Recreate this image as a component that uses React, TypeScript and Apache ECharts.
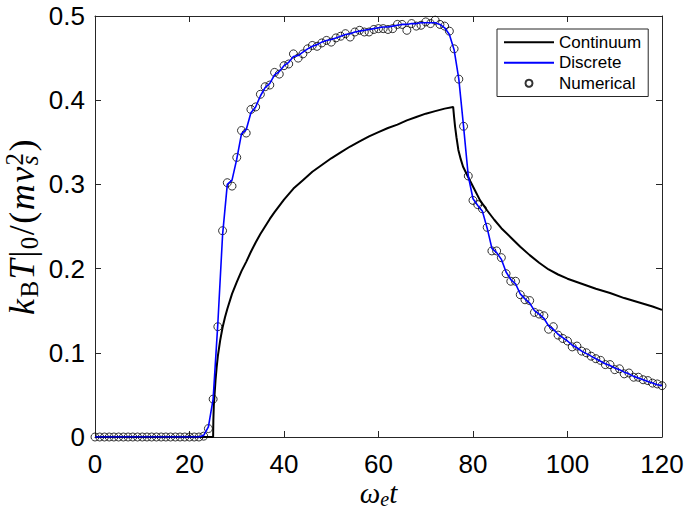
import React, { useEffect, useRef } from "react";
import * as echarts from "echarts";

const xTicks = [0, 20, 40, 60, 80, 100, 120];
const yTicks = [0, 0.1, 0.2, 0.3, 0.4, 0.5];

const seriesNames = ["Continuum", "Discrete", "Numerical"];

// Continuum (analytic) curve
const contT = [
  0, 25.0, 25.05, 25.15, 25.3, 25.5, 25.75, 26.0, 26.5, 27, 27.5, 28, 29, 30, 31, 32, 33, 34, 35, 36, 37, 38, 40,
  42, 44, 46, 48, 50, 52, 54, 56, 58, 60, 62, 64, 66, 68, 70, 72, 74, 75.8,
  76.0, 76.2, 76.5, 76.9, 77.4, 77.9, 78.6, 79.4, 80.4, 81.5, 83, 84.5, 86, 88, 90, 92, 94, 96, 98, 100,
  103, 106, 109, 112, 115, 118, 120,
];
const contV = [
  0, 0, 0.02, 0.038, 0.05, 0.067, 0.083, 0.096, 0.115, 0.13, 0.142, 0.152, 0.17, 0.184, 0.197, 0.208, 0.22, 0.231, 0.241, 0.25, 0.259, 0.267, 0.282,
  0.295, 0.305, 0.315, 0.323, 0.331, 0.338, 0.345, 0.351, 0.357, 0.362, 0.367, 0.371, 0.376, 0.38, 0.384, 0.387, 0.39, 0.392,
  0.38, 0.369, 0.356, 0.341, 0.33, 0.321, 0.313, 0.304, 0.293, 0.281, 0.269, 0.258, 0.248, 0.237, 0.226, 0.216, 0.207, 0.199, 0.193, 0.188,
  0.182, 0.176, 0.171, 0.165, 0.16, 0.155, 0.151,
];

// time grid (omega_e t) for discrete model and numerical points
const gridT = [
  0, 1, 2, 3, 4, 5, 6, 7, 8, 9, 10, 11, 12, 13, 14, 15, 16, 17, 18, 19, 20,
  21, 22, 23, 24, 25, 26, 27, 28, 29, 30, 31, 32, 33, 34, 35, 36, 37, 38, 39, 40,
  41, 42, 43, 44, 45, 46, 47, 48, 49, 50, 51, 52, 53, 54, 55, 56, 57, 58, 59, 60,
  61, 62, 63, 64, 65, 66, 67, 68, 69, 70, 71, 72, 73, 74, 75, 76, 77, 78, 79, 80,
  81, 82, 83, 84, 85, 86, 87, 88, 89, 90, 91, 92, 93, 94, 95, 96, 97, 98, 99, 100,
  101, 102, 103, 104, 105, 106, 107, 108, 109, 110, 111, 112, 113, 114, 115, 116, 117, 118, 119, 120,
];

const discreteV = [
  0, 0, 0, 0, 0, 0, 0, 0, 0, 0, 0,
  0, 0, 0, 0, 0, 0, 0, 0, 0, 0,
  0, 0, 0.002, 0.012, 0.045, 0.135, 0.24, 0.3, 0.305, 0.33,
  0.36, 0.365, 0.385, 0.392, 0.405, 0.415, 0.42, 0.43, 0.434, 0.441,
  0.445, 0.452, 0.453, 0.457, 0.461, 0.464, 0.466, 0.469, 0.471, 0.472,
  0.474, 0.476, 0.478, 0.479, 0.481, 0.482, 0.483, 0.484, 0.485, 0.486,
  0.487, 0.487, 0.488, 0.489, 0.49, 0.49, 0.491, 0.491, 0.492, 0.492,
  0.492, 0.492, 0.49, 0.486, 0.478, 0.46, 0.425, 0.369, 0.31, 0.283,
  0.275, 0.268, 0.248, 0.224, 0.219, 0.211, 0.196, 0.187, 0.182, 0.17,
  0.164, 0.159, 0.15, 0.146, 0.141, 0.132, 0.128, 0.122, 0.118, 0.114,
  0.109, 0.106, 0.102, 0.099, 0.096, 0.093, 0.09, 0.087, 0.085, 0.082,
  0.08, 0.077, 0.075, 0.072, 0.07, 0.068, 0.066, 0.064, 0.062, 0.061,
];

const numericalV = [
  0, 0, 0, 0, 0, 0, 0, 0, 0, 0, 0,
  0, 0, 0, 0, 0, 0, 0, 0, 0, 0,
  0, 0, 0.001, 0.01, 0.045, 0.131, 0.245, 0.302, 0.298, 0.332,
  0.364, 0.361, 0.389, 0.392, 0.407, 0.416, 0.418, 0.433, 0.431, 0.441,
  0.443, 0.455, 0.45, 0.455, 0.461, 0.465, 0.464, 0.468, 0.471, 0.469,
  0.474, 0.476, 0.479, 0.475, 0.481, 0.483, 0.481, 0.481, 0.484, 0.485,
  0.485, 0.484, 0.485, 0.49, 0.49, 0.483, 0.491, 0.488, 0.489, 0.493,
  0.491, 0.495, 0.49, 0.488, 0.482, 0.461, 0.425, 0.369, 0.31, 0.281,
  0.276, 0.271, 0.249, 0.221, 0.221, 0.213, 0.194, 0.185, 0.185, 0.169,
  0.163, 0.162, 0.148, 0.146, 0.144, 0.128, 0.131, 0.121, 0.117, 0.114,
  0.107, 0.108, 0.102, 0.1, 0.096, 0.093, 0.091, 0.086, 0.086, 0.08,
  0.081, 0.075, 0.076, 0.071, 0.071, 0.068, 0.067, 0.064, 0.063, 0.061,
];

const SERIF = "'Liberation Serif', 'Times New Roman', serif";
const SANS = "'Liberation Sans', Arial, Helvetica, sans-serif";
const AXIS_COLOR = "#262626";

const mathRich = (fs: number, pad: number) => {
  const sub = Math.round(fs * 0.7);
  const lh = Math.round(fs * 1.1);
  const subLh = Math.round(fs * 0.63);
  const supLh = Math.round(fs * 0.68);
  return {
    i: { fontFamily: SERIF, fontStyle: "italic", fontSize: fs, lineHeight: lh, color: "#000", padding: [0, pad, 0, 0] },
    r: { fontFamily: SERIF, fontSize: fs, lineHeight: lh, color: "#000", padding: [0, pad, 0, 0] },
    sr: { fontFamily: SERIF, fontSize: sub, lineHeight: subLh, verticalAlign: "bottom", color: "#000", padding: [0, pad, 0, 0] },
    si: { fontFamily: SERIF, fontStyle: "italic", fontSize: sub, lineHeight: subLh, verticalAlign: "bottom", color: "#000", padding: [0, -Math.round(sub * 0.4), 0, 0] },
    sup: { fontFamily: SERIF, fontSize: sub, lineHeight: supLh, verticalAlign: "top", color: "#000", padding: [0, pad, 0, 0] },
    sie: { fontFamily: SERIF, fontStyle: "italic", fontSize: sub, lineHeight: subLh, verticalAlign: "bottom", color: "#000", padding: [0, pad, 0, 0] },
  };
};

export default function App() {
  const ref = useRef<HTMLDivElement>(null);
  useEffect(() => {
    document.body.style.margin = "0";
    const chart = echarts.init(ref.current!, null, { renderer: "svg" });
    const xAxisBase = {
      type: "value",
      min: 0,
      max: 120,
      interval: 20,
      axisLine: { show: true, onZero: false, lineStyle: { color: AXIS_COLOR, width: 1 } },
      axisTick: { show: true, inside: true, length: 6, lineStyle: { color: AXIS_COLOR } },
      splitLine: { show: false },
    };
    const yAxisBase = {
      type: "value",
      min: 0,
      max: 0.5,
      interval: 0.1,
      axisLine: { show: true, onZero: false, lineStyle: { color: AXIS_COLOR, width: 1 } },
      axisTick: { show: true, inside: true, length: 6, lineStyle: { color: AXIS_COLOR } },
      splitLine: { show: false },
    };
    const hideSym = { color: "rgba(0,0,0,0)", borderWidth: 0, opacity: 0 };
    chart.setOption({
      animation: false,
      backgroundColor: "#fff",
      grid: { left: 95, top: 16, right: 23, bottom: 79, containLabel: false, outerBoundsMode: "none" },
      legend: {
        orient: "vertical",
        left: 497,
        top: 29,
        padding: [3, 7, 3, 6],
        itemGap: 0,
        itemWidth: 50,
        itemHeight: 7,
        borderColor: AXIS_COLOR,
        borderWidth: 1,
        borderRadius: 0,
        backgroundColor: "#fff",
        textStyle: { fontFamily: SANS, fontSize: 17, color: "#000", lineHeight: 20.5 },
        data: [
          { name: seriesNames[0], itemStyle: hideSym },
          { name: seriesNames[1], itemStyle: hideSym },
          { name: seriesNames[2] },
        ],
      },
      xAxis: [
        {
          ...xAxisBase,
          position: "bottom",
          axisLabel: { show: true, margin: 14, fontFamily: SANS, fontSize: 26, color: "#000", formatter: (v: number) => (xTicks.includes(v) ? String(v) : "") },
          name: "{i|ω}{sie|e}{i|t}",
          nameLocation: "middle",
          nameGap: 40,
          nameMoveOverlap: false,
          nameTextStyle: { rich: mathRich(29, 0) },
        },
        { ...xAxisBase, position: "top", axisLabel: { show: false } },
      ],
      yAxis: [
        {
          ...yAxisBase,
          position: "left",
          axisLabel: { show: true, margin: 10, fontFamily: SANS, fontSize: 26, color: "#000", formatter: (v: number) => { const t = yTicks.find((y) => Math.abs(y - v) < 1e-9); return t === undefined ? "" : String(t); } },
          name: "{i|k}{sr|B}{i|T}{r||}{sr|0}{r|/}{r|(}{i|m}{i|v}{si|s}{sup|2}{r|)}",
          nameLocation: "middle",
          nameRotate: 90,
          nameGap: 53,
          nameMoveOverlap: false,
          nameTextStyle: { rich: mathRich(36, 1.5) },
        },
        { ...yAxisBase, position: "right", axisLabel: { show: false } },
      ],
      series: [
        {
          name: seriesNames[0],
          type: "line",
          xAxisIndex: 0,
          yAxisIndex: 0,
          symbol: "none",
          data: contT.map((t, i) => [t, contV[i]]),
          lineStyle: { color: "#000", width: 2 },
          itemStyle: { color: "#000" },
        },
        {
          name: seriesNames[1],
          type: "line",
          xAxisIndex: 0,
          yAxisIndex: 0,
          symbol: "none",
          data: gridT.map((t, i) => [t, discreteV[i]]),
          lineStyle: { color: "#0000ff", width: 1.6 },
          itemStyle: { color: "#0000ff" },
        },
        {
          name: seriesNames[2],
          type: "scatter",
          xAxisIndex: 0,
          yAxisIndex: 0,
          symbol: "circle",
          symbolSize: 8,
          data: gridT.map((t, i) => [t, numericalV[i]]),
          itemStyle: { color: "rgba(0,0,0,0)", borderColor: "#000", borderWidth: 1 },
        },
      ],
    });
    return () => chart.dispose();
  }, []);
  return <div ref={ref} style={{ width: 685, height: 516 }} />;
}
